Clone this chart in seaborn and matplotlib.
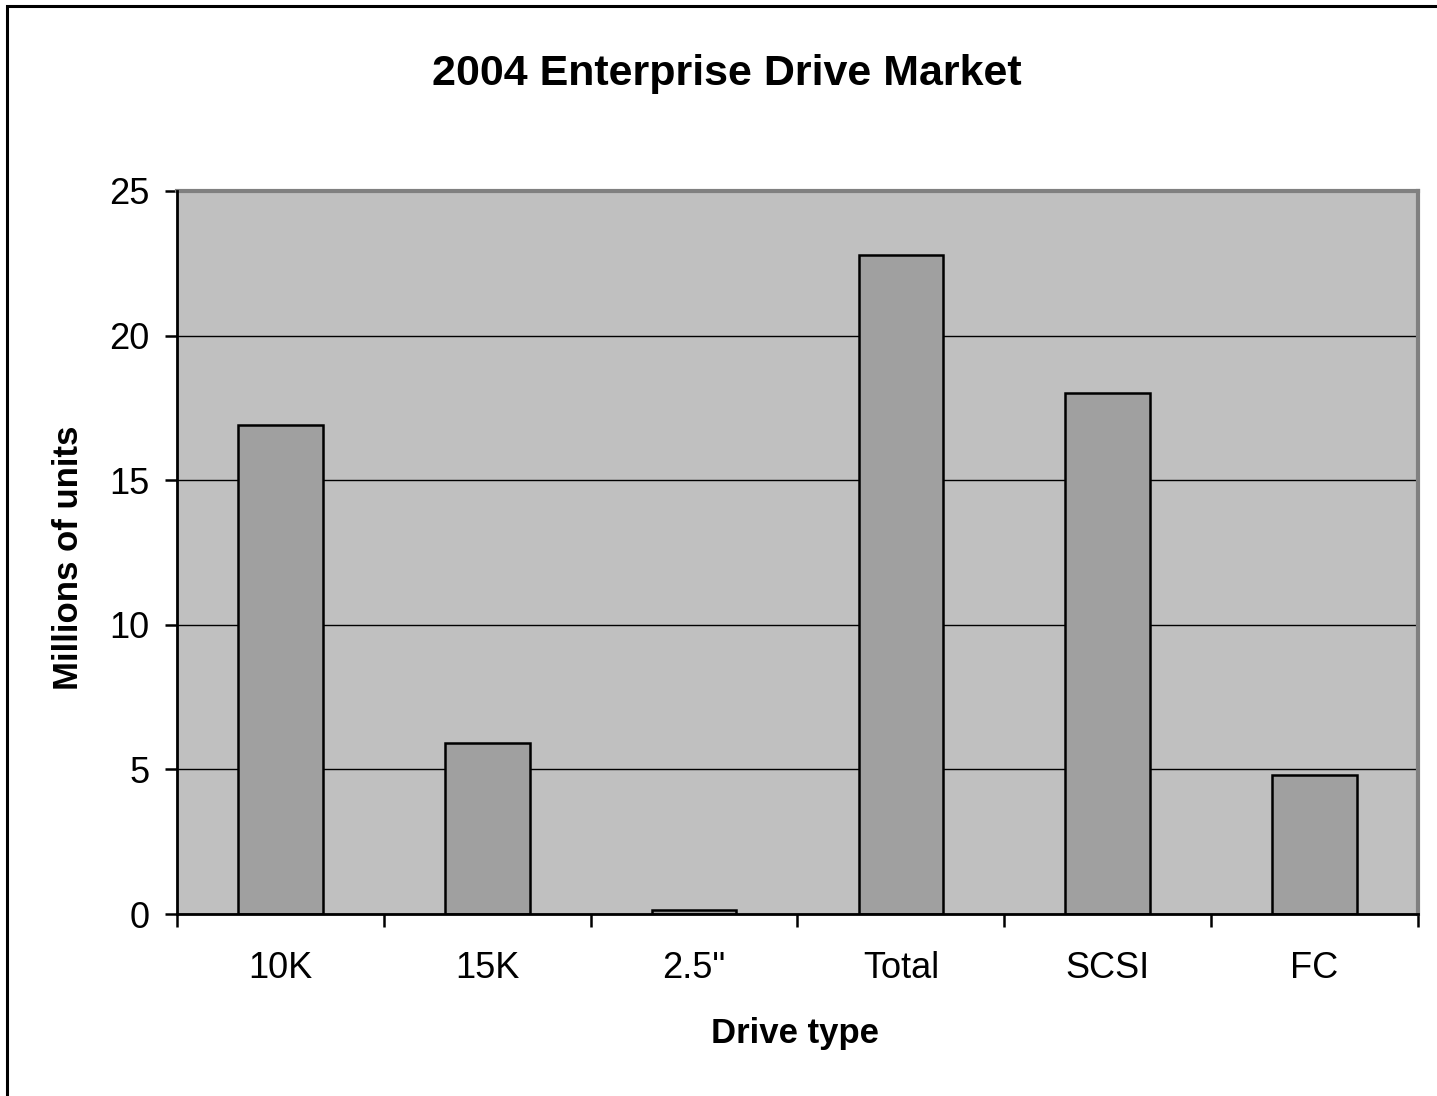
import matplotlib
matplotlib.use("Agg")
import matplotlib.pyplot as plt
from matplotlib.patches import Rectangle
import seaborn as sns
import pandas as pd

drive_types = ["10K", "15K", "2.5\"", "Total", "SCSI", "FC"]
units = [16.9, 5.9, 0.14, 22.8, 18.0, 4.8]

df = pd.DataFrame({"type": drive_types, "units": units})

sns.set_style("white")
plt.rcParams["font.family"] = ["Liberation Sans", "DejaVu Sans"]
plt.rcParams["text.color"] = "black"
plt.rcParams["xtick.color"] = "black"
plt.rcParams["ytick.color"] = "black"
plt.rcParams["axes.labelcolor"] = "black"

fig = plt.figure(figsize=(14.37, 10.96), dpi=100)
ax = fig.add_axes([177 / 1437, 1 - 914 / 1096, (1418 - 177) / 1437, (914 - 191) / 1096])
ax.set_facecolor("#C0C0C0")

sns.barplot(data=df, x="type", y="units", color="#A0A0A0", width=0.41,
            edgecolor="black", linewidth=1.8, saturation=1, ax=ax, zorder=3)

ax.set_ylim(0, 25)
ax.set_xlim(-0.5, 5.5)
ax.set_yticks([0, 5, 10, 15, 20, 25])
ax.yaxis.grid(True, color="black", linewidth=1.0, zorder=0)
ax.set_axisbelow(True)

# category boundaries get the tick marks, labels sit in the middle
ax.set_xticks([i - 0.5 for i in range(7)], minor=True)
ax.tick_params(axis="x", which="major", length=0, pad=27, labelsize=26)
ax.tick_params(axis="x", which="minor", length=9, width=1.8, color="black", direction="out")
ax.tick_params(axis="y", length=9, width=1.8, color="black", direction="out", labelsize=26, pad=11)
ax.tick_params(bottom=True, left=True, which="both")

for side in ["top", "right"]:
    ax.spines[side].set_color("#808080")
    ax.spines[side].set_linewidth(3)
for side in ["bottom", "left"]:
    ax.spines[side].set_color("black")
    ax.spines[side].set_linewidth(2)
ax.spines["left"].set_zorder(4)
ax.spines["bottom"].set_zorder(4)

ax.set_xlabel("")
ax.set_ylabel("")
fig.text(727 / 1437, 1 - 74 / 1096, "2004 Enterprise Drive Market",
         ha="center", va="center", fontsize=31, fontweight="bold")
fig.text(795 / 1437, 1 - 1033 / 1096, "Drive type", ha="center", va="center",
         fontsize=25, fontweight="bold")
fig.text(68 / 1437, 1 - 558 / 1096, "Millions of units", ha="center", va="center",
         rotation=90, fontsize=25, fontweight="bold")

# outer chart border
fig.patches.append(Rectangle((7 / 1437, -0.05), 1.1, 1 - 6 / 1096 + 0.05,
                             transform=fig.transFigure, fill=False,
                             edgecolor="black", linewidth=2.2))

fig.savefig("out.png", dpi=100)
